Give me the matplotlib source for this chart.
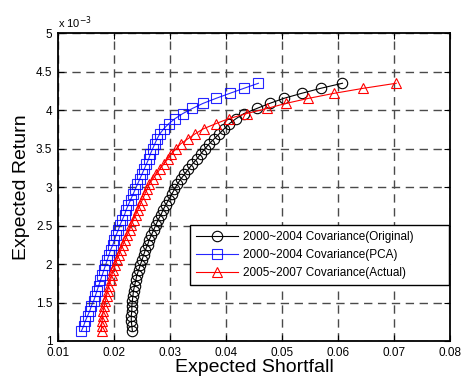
import matplotlib
matplotlib.use("Agg")
import matplotlib.pyplot as plt

# Target expected returns along each frontier (units of 1e-3)
returns_e3 = [1.130, 1.196, 1.261, 1.327, 1.393, 1.459, 1.524, 1.590, 1.656, 1.721,
              1.787, 1.853, 1.918, 1.984, 2.050, 2.116, 2.181, 2.247, 2.313, 2.378,
              2.444, 2.510, 2.575, 2.641, 2.707, 2.773, 2.838, 2.904, 2.970, 3.035,
              3.101, 3.167, 3.232, 3.298, 3.364, 3.430, 3.495, 3.561, 3.627, 3.692,
              3.758, 3.824, 3.889, 3.955, 4.021, 4.087, 4.152, 4.218, 4.283, 4.349]

# Expected shortfall of each frontier
es_original = [0.0233, 0.0232, 0.0231, 0.0231, 0.0232, 0.0232, 0.0233, 0.0234, 0.0235, 0.0237,
               0.0239, 0.0241, 0.0244, 0.0247, 0.0250, 0.0253, 0.0256, 0.0260, 0.0263, 0.0267,
               0.0271, 0.0275, 0.0279, 0.0284, 0.0288, 0.0293, 0.0298, 0.0303, 0.0308, 0.0313,
               0.0319, 0.0326, 0.0333, 0.0340, 0.0348, 0.0355, 0.0362, 0.0370, 0.0379, 0.0388,
               0.0397, 0.0406, 0.0418, 0.0432, 0.0455, 0.0478, 0.0503, 0.0535, 0.0569, 0.0608]

es_pca = [0.0142, 0.0146, 0.0149, 0.0153, 0.0157, 0.0160, 0.0164, 0.0167, 0.0170, 0.0173,
          0.0176, 0.0179, 0.0182, 0.0185, 0.0188, 0.0191, 0.0194, 0.0198, 0.0201, 0.0204,
          0.0208, 0.0211, 0.0215, 0.0219, 0.0222, 0.0226, 0.0230, 0.0234, 0.0238, 0.0242,
          0.0246, 0.0250, 0.0254, 0.0258, 0.0262, 0.0265, 0.0269, 0.0273, 0.0277, 0.0282,
          0.0289, 0.0298, 0.0309, 0.0323, 0.0340, 0.0359, 0.0382, 0.0407, 0.0432, 0.0458]

es_actual = [0.0178, 0.0178, 0.0179, 0.0180, 0.0181, 0.0183, 0.0185, 0.0187, 0.0189, 0.0191,
             0.0194, 0.0196, 0.0199, 0.0202, 0.0205, 0.0209, 0.0212, 0.0216, 0.0220, 0.0224,
             0.0228, 0.0231, 0.0235, 0.0239, 0.0243, 0.0247, 0.0251, 0.0255, 0.0259, 0.0263,
             0.0269, 0.0276, 0.0282, 0.0289, 0.0296, 0.0302, 0.0311, 0.0319, 0.0332, 0.0345,
             0.0360, 0.0382, 0.0405, 0.0437, 0.0473, 0.0507, 0.0547, 0.0593, 0.0645, 0.0704]

series_labels = ["2000~2004 Covariance(Original)",
                 "2000~2004 Covariance(PCA)",
                 "2005~2007 Covariance(Actual)"]

x_ticks = [0.01, 0.02, 0.03, 0.04, 0.05, 0.06, 0.07, 0.08]
x_tick_labels = ["0.01", "0.02", "0.03", "0.04", "0.05", "0.06", "0.07", "0.08"]
y_ticks = [1, 1.5, 2, 2.5, 3, 3.5, 4, 4.5, 5]
y_tick_labels = ["1", "1.5", "2", "2.5", "3", "3.5", "4", "4.5", "5"]

plt.rcParams["font.family"] = ["Liberation Sans", "DejaVu Sans"]

fig = plt.figure(figsize=(4.63, 3.81), dpi=100)
ax = fig.add_axes([0.125, 0.105, 0.847, 0.808])

ax.plot(es_original, returns_e3, color="black", lw=0.8, marker="o", ms=7.5,
        mfc="none", mec="black", mew=0.8, label=series_labels[0])
ax.plot(es_pca, returns_e3, color="blue", lw=0.8, marker="s", ms=6.5,
        mfc="none", mec="blue", mew=0.8, alpha=0.85, label=series_labels[1])
ax.plot(es_actual, returns_e3, color="red", lw=0.8, marker="^", ms=7.5,
        mfc="none", mec="red", mew=0.8, label=series_labels[2])

ax.set_xlim(0.01, 0.08)
ax.set_ylim(1, 5)
ax.set_xticks(x_ticks)
ax.set_xticklabels(x_tick_labels)
ax.set_yticks(y_ticks)
ax.set_yticklabels(y_tick_labels)
ax.tick_params(direction="in", length=4, width=0.8, labelsize=8.5,
               top=True, right=True)
ax.tick_params(axis="x", pad=4.5)
ax.tick_params(axis="y", pad=4)

ax.grid(True, color="#4a4a4a", linestyle=(0, (6, 4)), linewidth=1.0)
ax.set_axisbelow(True)
for sp in ax.spines.values():
    sp.set_linewidth(1.3)
    sp.set_color("black")

ax.set_xlabel("Expected Shortfall", fontsize=14, labelpad=0)
ax.set_ylabel("Expected Return", fontsize=14, labelpad=4)
ax.text(0.0, 1.008, r"x 10$^{-3}$", transform=ax.transAxes, fontsize=8,
        ha="left", va="bottom")

# Wide legend box anchored to the right edge of the axes
leg = ax.legend(loc="lower left", bbox_to_anchor=(0.337, 0.182, 0.66, 0.195),
                mode="expand", fontsize=8.5, frameon=True, fancybox=False,
                borderpad=0.5, handlelength=3.6, labelspacing=0.5,
                handletextpad=0.4, borderaxespad=0)
leg.get_frame().set_edgecolor("black")
leg.get_frame().set_linewidth(1.0)
leg.get_frame().set_alpha(1)

fig.savefig("out.png", dpi=100)
